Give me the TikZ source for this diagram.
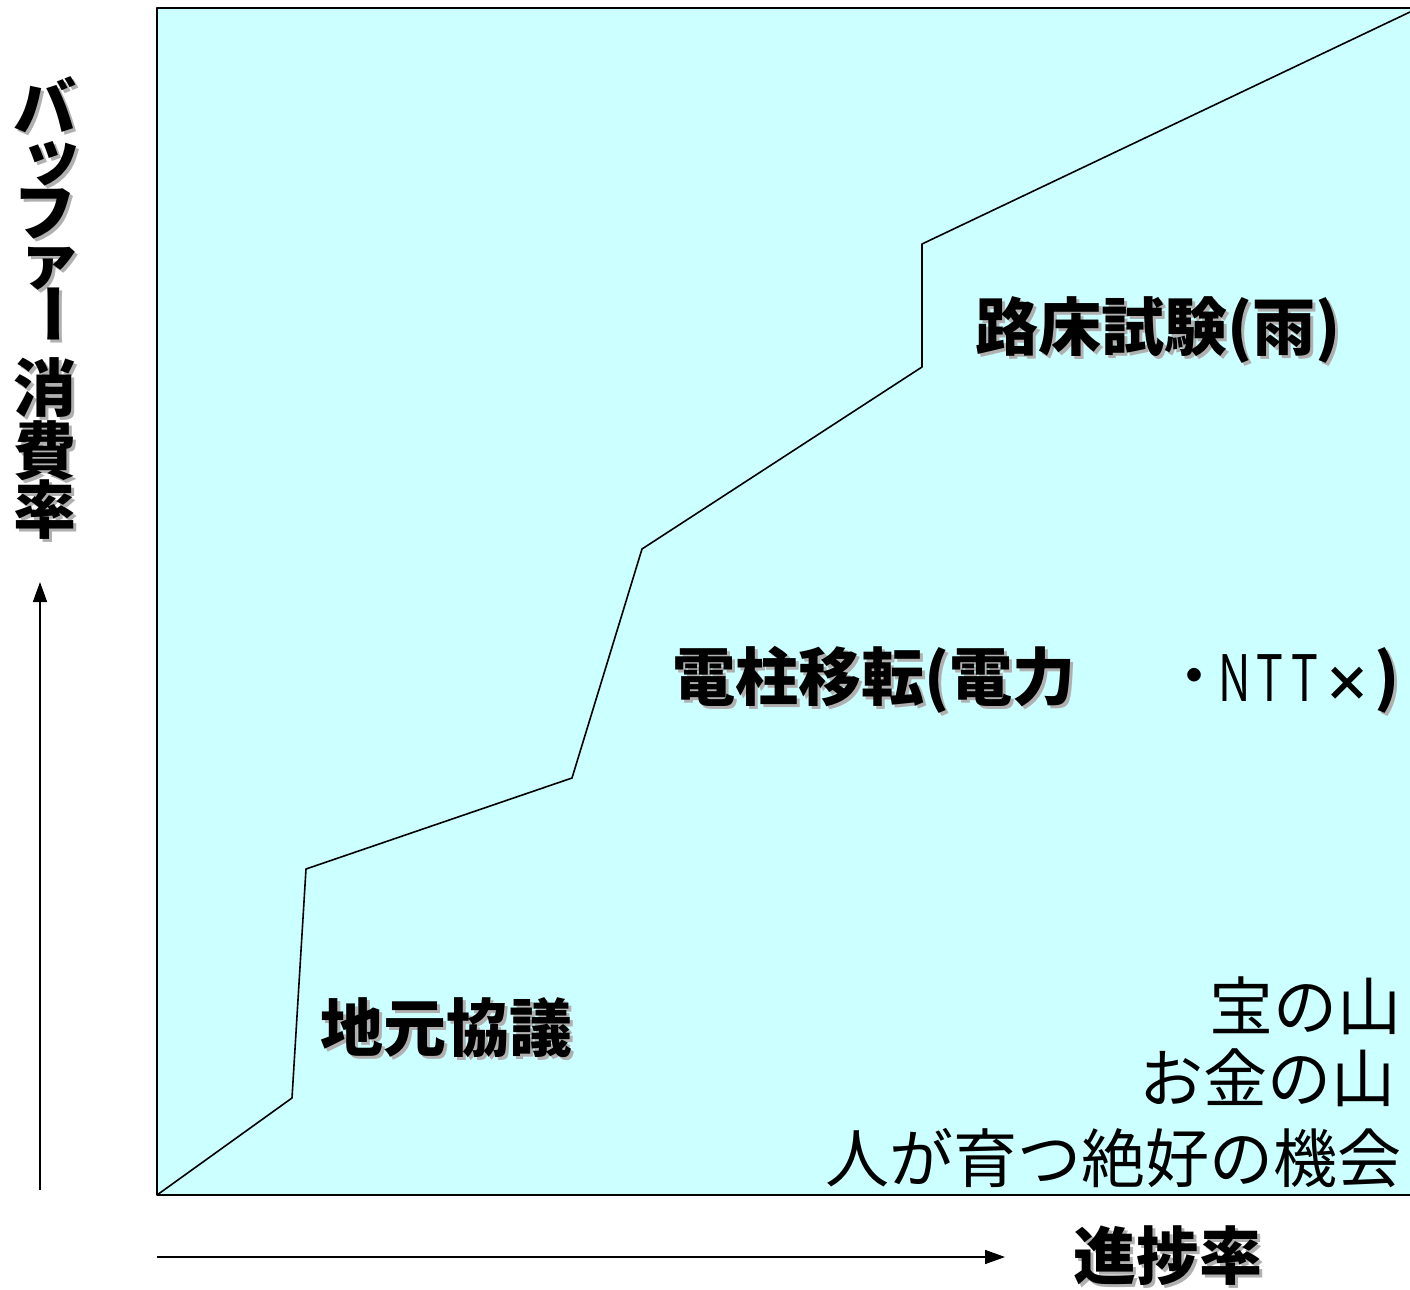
\documentclass[tikz,border=0pt]{standalone}
\usepackage{fontspec}
\setmainfont{Noto Sans CJK JP}
\usetikzlibrary{arrows.meta}
\definecolor{paleaqua}{HTML}{CCFFFF}
\definecolor{shadowgray}{HTML}{B0B0B0}
\tikzset{
  lbl/.style={font=\fontsize{31.5}{34}\selectfont\bfseries, inner sep=0pt},
  lblshadow/.style={lbl, text=shadowgray, xshift=1.5pt, yshift=-1.5pt},
  plaintxt/.style={font=\fontsize{32}{34}\selectfont, inner sep=0pt},
  narrowtxt/.style={plaintxt, xscale=0.7},
  stacked/.style={align=center, font={\fontsize{31.5}{24}\selectfont\bfseries\lineskiplimit-100pt\relax}},
}
% shadowed label: [options] name, position, anchor, text
\newcommand\shlabel[5][]{%
  \node[lblshadow,#1,anchor=#4] at (#3) {#5};
  \node[lbl,#1,anchor=#4] (#2) at (#3) {#5};}

\begin{document}
\begin{tikzpicture}[x=0.5pt, y=-0.5pt, line join=round, >={Triangle[length=10pt,width=7pt]}]
	\def\xl{157}\def\xr{1412}\def\yt{8}\def\yb{1195}
	\useasboundingbox (0,0) rectangle (1410,1290);
	\draw[fill=paleaqua, line width=1pt] (\xl,\yt) rectangle (\xr,\yb);
	\draw[line width=0.8pt] (\xl,\yb)--(292,1098)--(306,869)--(572,778)--(642,549)--(922,367)--(922,244)--(1410,12);
	% axes
	\coordinate (yfoot) at (40,1190); \coordinate (yhead) at (40,582);
	\coordinate (xfoot) at (157,1257); \coordinate (xhead) at (1005,1257);
	\draw[->, line width=0.8pt] (yfoot) -- (yhead);
	\draw[->, line width=0.8pt] (xfoot) -- (xhead);
	% vertical axis label
	\shlabel[stacked]{ylabel}{45,76}{north}{バ\\[0.5pt]\hspace*{7pt}ッ\\[4pt]フ\\\hspace*{5pt}ァ\\[-1pt]\rotatebox[origin=c]{-90}{ー}\\[17pt]消\\[7.5pt]費\\[5.5pt]率}
	\shlabel{progress}{1168,1256}{center}{進捗率}
	% stages
	\shlabel{local}{320,1028}{west}{地元協議}
	\shlabel{pole}{672,680}{west}{電柱移転(電力}
	\node[plaintxt] (ntt1) at (1194,684) {・};
	\foreach \c/\x [count=\i from 2] in {N/1235, T/1270, T/1305}
		\node[narrowtxt] (ntt\i) at (\x,678) {\c};
	\node[plaintxt, scale=0.75] (ntt5) at (1347,684) {\bfseries ×};
	\shlabel{poleclose}{1387,680}{center}{)}
	\shlabel{roadbed}{975,330}{west}{路床試験(雨)}
	% benefits
	\node[plaintxt, anchor=east] (treasure) at (1402,1006) {宝の山};
	\node[plaintxt, anchor=east] (money) at (1396,1078) {お金の山};
	\node[plaintxt, anchor=east] (chance) at (1402,1158) {人が育つ絶好の機会};
\end{tikzpicture}
\end{document}
